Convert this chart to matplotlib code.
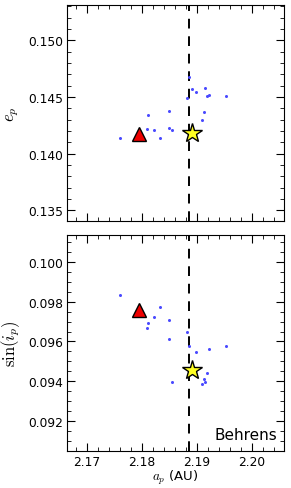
import matplotlib
matplotlib.use("Agg")
import matplotlib.pyplot as plt
from matplotlib.ticker import MultipleLocator, AutoMinorLocator

plt.rcParams['mathtext.fontset'] = 'cm'
plt.rcParams['font.family'] = ['DejaVu Sans']

# family members
a_fam = [2.1761, 2.1811, 2.1809, 2.1822, 2.1834, 2.1849, 2.1849, 2.1855, 2.1883,
         2.1886, 2.1892, 2.1898, 2.1910, 2.1913, 2.1916, 2.1919, 2.1922, 2.1954]
e_fam = [0.14136, 0.1434, 0.14216, 0.14207, 0.14136, 0.1438, 0.14227, 0.14212, 0.14487,
         0.14676, 0.14575, 0.14546, 0.14298, 0.14369, 0.14579, 0.14508, 0.14519, 0.14511]
s_fam = [0.09833, 0.09695, 0.09668, 0.09725, 0.09773, 0.09707, 0.09615, 0.09395, 0.0965,
         0.09577, 0.0946, 0.09548, 0.09388, 0.09413, 0.09397, 0.09443, 0.09563, 0.09575]

# parent body (triangle) and reference (star)
a_tri, e_tri, s_tri = 2.1795, 0.14174, 0.0976
a_star, e_star, s_star = 2.1892, 0.14183, 0.09458
a_line = 2.1886
label = "Behrens"

fig = plt.figure(figsize=(2.91, 4.89), dpi=100)
ax1 = fig.add_axes([0.2302, 0.546, 0.7457, 0.4411])
ax2 = fig.add_axes([0.2302, 0.0757, 0.7457, 0.4417])

for ax, yv, yt, ys in [(ax1, e_fam, e_tri, e_star), (ax2, s_fam, s_tri, s_star)]:
    ax.plot(a_fam, yv, 'o', ms=2.2, color='#4a4aff', mec='none', zorder=2)
    ax.axvline(a_line, color='black', ls=(0, (5, 4)), lw=1.4, zorder=1)
    ax.plot([a_tri], [yt], '^', ms=10, color='#ee0000', mec='black', mew=1.0, zorder=3)
    ax.plot([a_star], [ys], '*', ms=15, color='#ffff22', mec='black', mew=1.0, zorder=4)
    ax.set_xlim(2.1664, 2.2059)
    ax.xaxis.set_major_locator(MultipleLocator(0.01))
    ax.xaxis.set_minor_locator(AutoMinorLocator(5))
    ax.tick_params(which='both', direction='in', top=True, right=True, labelsize=8.8)
    ax.tick_params(which='major', length=5.5, width=0.8, pad=3)
    ax.tick_params(which='minor', length=2.8, width=0.6)

ax1.set_ylim(0.13405, 0.1531)
ax1.yaxis.set_major_locator(MultipleLocator(0.005))
ax1.yaxis.set_minor_locator(AutoMinorLocator(5))
ax1.yaxis.set_major_formatter(plt.FormatStrFormatter('%.3f'))
ax1.tick_params(labelbottom=False)
ax1.set_ylabel(r'$e_p$', fontsize=12, labelpad=5)

ax2.set_ylim(0.0905, 0.10135)
ax2.yaxis.set_major_locator(MultipleLocator(0.002))
ax2.yaxis.set_minor_locator(AutoMinorLocator(4))
ax2.yaxis.set_major_formatter(plt.FormatStrFormatter('%.3f'))
ax2.xaxis.set_major_formatter(plt.FormatStrFormatter('%.2f'))
ax2.set_ylabel(r'$\sin(i_p)$', fontsize=12, labelpad=4)
ax2.set_xlabel(r'$a_p$ (AU)', fontsize=9.5, labelpad=0)
ax2.text(0.97, 0.04, label, transform=ax2.transAxes, ha='right', va='bottom', fontsize=11)

fig.savefig('out.png', dpi=100)
